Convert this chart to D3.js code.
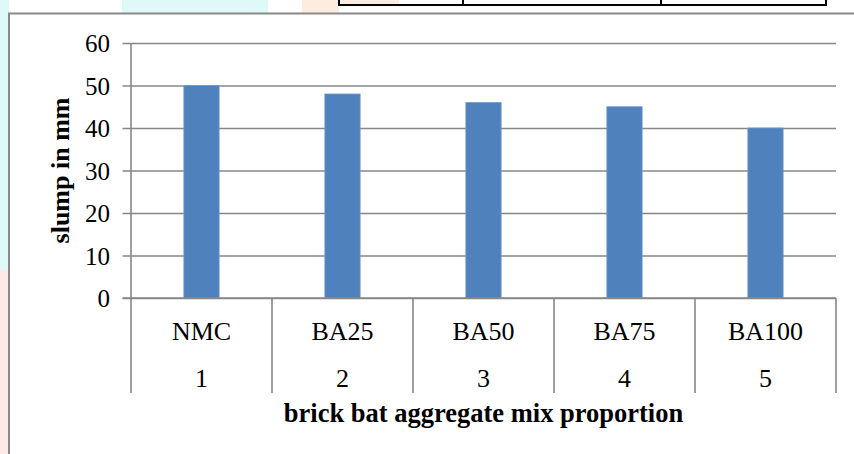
<!DOCTYPE html>
<html>
<head>
<meta charset="utf-8">
<script src="https://cdn.jsdelivr.net/npm/d3@7"></script>
<style>
  html, body { margin: 0; padding: 0; background: #ffffff; }
  svg { display: block; }
  text { font-family: "Liberation Serif", "Times New Roman", serif; fill: #000; }
</style>
</head>
<body>
<svg id="chart" width="854" height="454"></svg>
<script>
// ---- data ----
const categories = ["NMC", "BA25", "BA50", "BA75", "BA100"];
const categoryNumbers = ["1", "2", "3", "4", "5"];
const slumpValues = [50, 48, 46, 45, 40];
const yTicks = [0, 10, 20, 30, 40, 50, 60];
const yTitle = "slump in mm";
const xTitle = "brick bat aggregate mix proportion";

const svg = d3.select("#chart");
const W = 854, H = 454;

// ---- page background (faint watermark colours outside the chart frame) ----
const bg = svg.append("g");
bg.append("rect").attr("x", 0).attr("y", 0).attr("width", 9).attr("height", 270).attr("fill", "#dff9f9");
bg.append("rect").attr("x", 0).attr("y", 270).attr("width", 9).attr("height", 184).attr("fill", "#fde9e5");
bg.append("rect").attr("x", 122).attr("y", 0).attr("width", 146).attr("height", 13).attr("fill", "#dff9f9");
bg.append("rect").attr("x", 302).attr("y", 0).attr("width", 37).attr("height", 13).attr("fill", "#fdede0");
bg.append("rect").attr("x", 339).attr("y", 0).attr("width", 60).attr("height", 5).attr("fill", "#fdede0");

// table fragment at the top
const tbl = svg.append("g").attr("stroke", "#000").attr("stroke-width", 2);
tbl.append("line").attr("x1", 339).attr("x2", 826).attr("y1", 5).attr("y2", 5);
[339, 463, 661, 826].forEach(x => {
  tbl.append("line").attr("x1", x).attr("x2", x).attr("y1", 0).attr("y2", 6);
});

// chart frame
svg.append("rect")
  .attr("x", 9).attr("y", 13.5)
  .attr("width", W + 20).attr("height", H)
  .attr("fill", "#ffffff")
  .attr("stroke", "#8a8a8a").attr("stroke-width", 2);

// ---- scales ----
const plot = { left: 131, right: 836, top: 43, bottom: 298 };
const x = d3.scaleBand().domain(categories).range([plot.left, plot.right]).paddingInner(0).paddingOuter(0);
const y = d3.scaleLinear().domain([0, 60]).range([plot.bottom, plot.top]);

const gridColor = "#878787";

// gridlines + y ticks
const yAxis = d3.axisLeft(y).tickValues(yTicks).tickSize(0).tickPadding(0).tickFormat(d3.format("d"));
const gy = svg.append("g").attr("transform", `translate(${plot.left},0)`).call(yAxis);
gy.select(".domain").remove();
gy.selectAll(".tick line").remove();
gy.selectAll(".tick").append("line")
  .attr("x1", -8.5).attr("x2", plot.right - plot.left)
  .attr("stroke", gridColor).attr("stroke-width", 1.6);
gy.attr("font-size", null).attr("font-family", null);
gy.selectAll(".tick text")
  .attr("x", -21).attr("dy", "0.34em")
  .style("font-size", "25px")
  .style("font-family", "'Liberation Serif', 'Times New Roman', serif")
  .attr("fill", "#000");

// y axis line
svg.append("line")
  .attr("x1", plot.left).attr("x2", plot.left)
  .attr("y1", plot.top).attr("y2", plot.bottom)
  .attr("stroke", gridColor).attr("stroke-width", 1.6);

// bars
const barW = x.bandwidth() * 0.25;
svg.append("g").selectAll("rect").data(slumpValues).join("rect")
  .attr("x", (d, i) => x(categories[i]) + (x.bandwidth() - barW) / 2)
  .attr("y", d => y(d))
  .attr("width", barW)
  .attr("height", d => y(0) - y(d))
  .attr("fill", "#4f81bd")
  .attr("stroke", "#6f9bd0").attr("stroke-width", 0.8);

// redraw zero line over bars
svg.append("line")
  .attr("x1", plot.left - 8.5).attr("x2", plot.right)
  .attr("y1", y(0)).attr("y2", y(0))
  .attr("stroke", gridColor).attr("stroke-width", 1.6);

// category separators (multi-level axis)
const sepBottom = 393;
const seps = categories.map(c => x(c)).concat([x(categories[categories.length - 1]) + x.bandwidth()]);
svg.append("g").selectAll("line").data(seps).join("line")
  .attr("x1", d => d).attr("x2", d => d)
  .attr("y1", plot.bottom).attr("y2", sepBottom)
  .attr("stroke", gridColor).attr("stroke-width", 1.6);

// category labels
svg.append("g").selectAll("text").data(categories).join("text")
  .attr("x", d => x(d) + x.bandwidth() / 2)
  .attr("y", 340)
  .attr("text-anchor", "middle")
  .style("font-size", "26px")
  .text(d => d);

svg.append("g").selectAll("text").data(categoryNumbers).join("text")
  .attr("x", (d, i) => x(categories[i]) + x.bandwidth() / 2)
  .attr("y", 387)
  .attr("text-anchor", "middle")
  .style("font-size", "26px")
  .text(d => d);

// axis titles
svg.append("text")
  .attr("x", (plot.left + plot.right) / 2)
  .attr("y", 422)
  .attr("text-anchor", "middle")
  .style("font-size", "26.5px")
  .attr("font-weight", "bold")
  .text(xTitle);

svg.append("text")
  .attr("transform", `translate(69,${(plot.top + plot.bottom) / 2}) rotate(-90)`)
  .attr("text-anchor", "middle")
  .style("font-size", "26px")
  .attr("font-weight", "bold")
  .text(yTitle);
</script>
</body>
</html>
